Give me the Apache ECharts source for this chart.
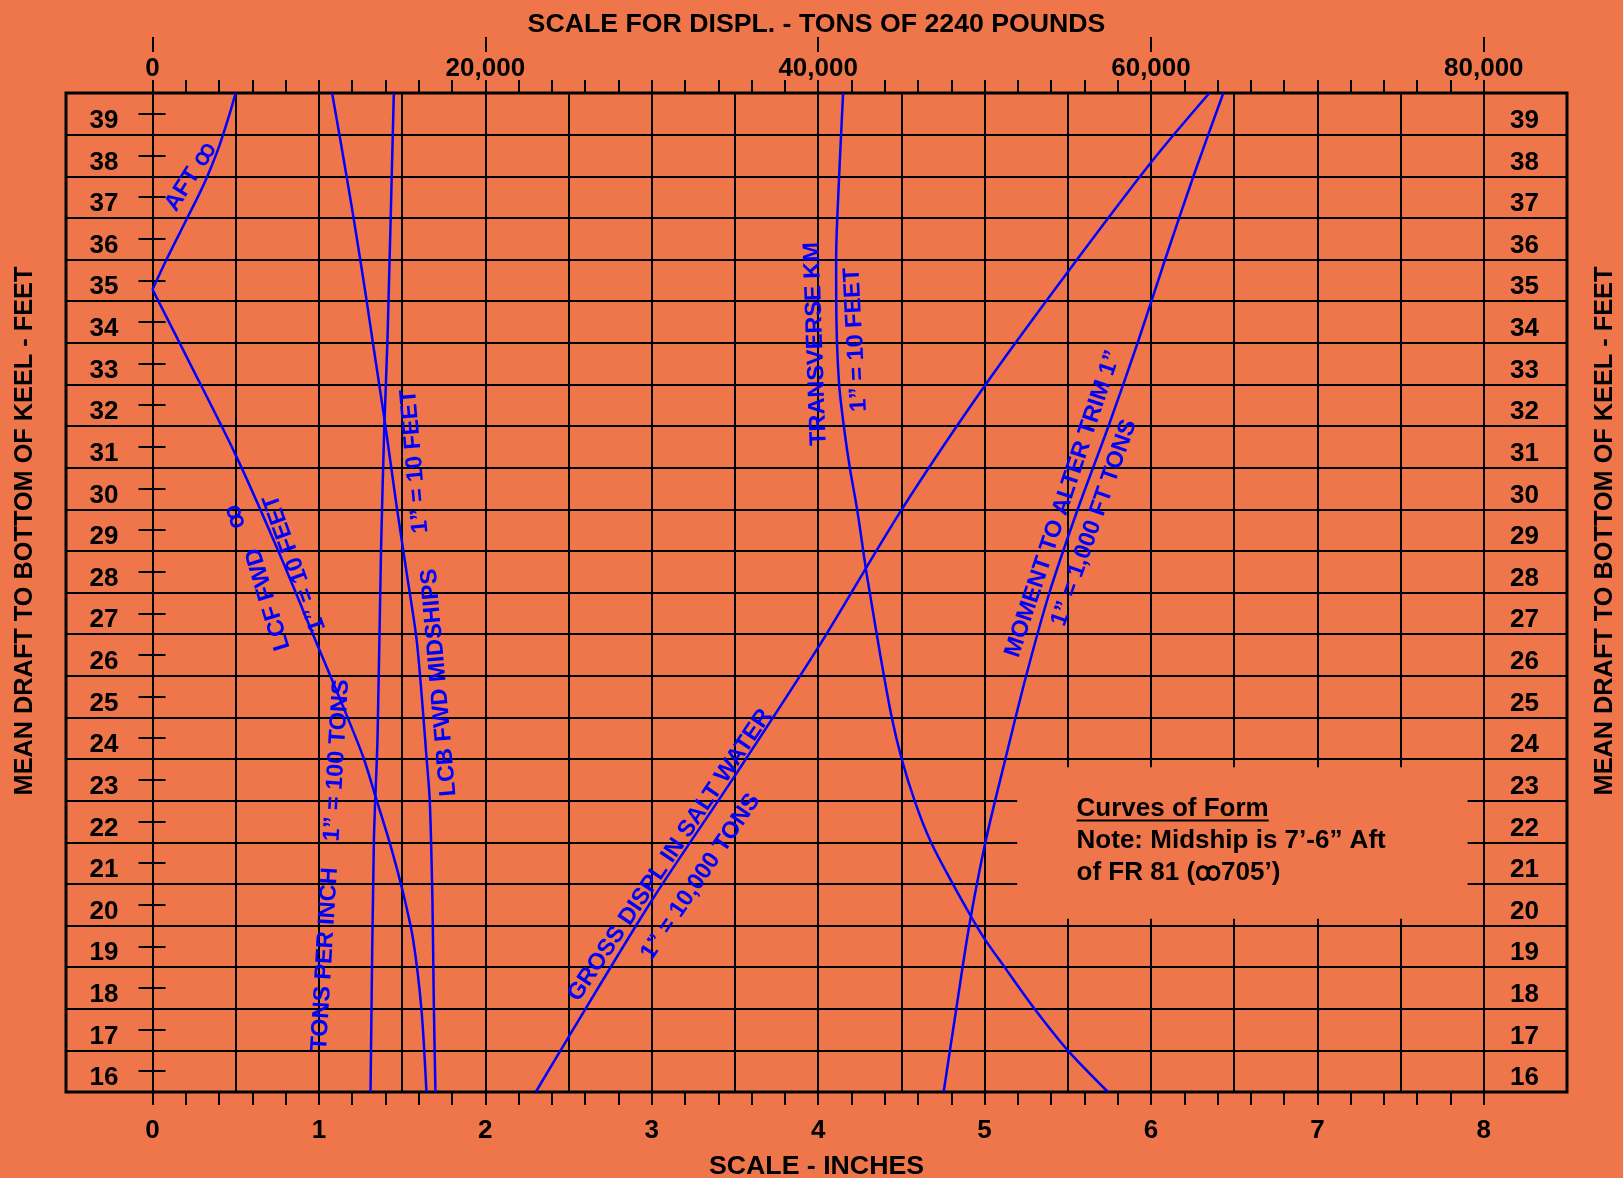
<!DOCTYPE html>
<html>
<head>
<meta charset="utf-8">
<script src="https://cdn.jsdelivr.net/npm/echarts@6/dist/echarts.min.js"></script>
<style>
  html, body { margin: 0; padding: 0; background: #EF764B; }
  #chart { width: 1623px; height: 1178px; }
</style>
</head>
<body>
<div id="chart"></div>
<script>
// ================= DATA =================
// Tick / label values
const draftLabels = [16,17,18,19,20,21,22,23,24,25,26,27,28,29,30,31,32,33,34,35,36,37,38,39];
const draftGridLines = [15.5,16.5,17.5,18.5,19.5,20.5,21.5,22.5,23.5,24.5,25.5,26.5,27.5,28.5,29.5,30.5,31.5,32.5,33.5,34.5,35.5,36.5,37.5,38.5,39.5];
const inchLabels = [0,1,2,3,4,5,6,7,8];
const inchGridLines = [0,0.5,1,1.5,2,2.5,3,3.5,4,4.5,5,5.5,6,6.5,7,7.5,8];
const inchMinorTicks = [];
for (let i = 0; i <= 40; i++) inchMinorTicks.push(Math.round(i * 0.2 * 10) / 10);
const displLabels = [0,20000,40000,60000,80000];
const displMinorTicks = [];
for (let i = 0; i <= 40; i++) displMinorTicks.push(i * 2000);

// Curves: [scale inches, mean draft feet]
const lcfAft = [[0,34.78],[0.084,35.5],[0.204,36.46],[0.284,37.10],[0.334,37.54],[0.404,38.26],[0.465,39.02],[0.499,39.5]];
const lcfFwd = [[1.646,15.5],[1.616,17.48],[1.566,19.16],[1.506,20.28],[1.426,21.48],[1.346,22.52],[1.265,23.56],[1.145,24.76],[1.0,26.15],[0.75,28.55],[0.5,30.8],[0.214,33.09],[0,34.78]];
const tonsPerInch = [[1.31,15.5],[1.33,21.5],[1.352,24.0],[1.373,28.5],[1.393,31.5],[1.412,33.6],[1.45,39.5]];
const lcbFwd = [[1.700,15.5],[1.690,17.7],[1.682,20.1],[1.666,22.5],[1.646,23.56],[1.620,24.9],[1.586,26.4],[1.526,28.0],[1.466,29.6],[1.396,31.6],[1.324,33.5],[1.287,34.5],[1.248,35.5],[1.208,36.5],[1.166,37.5],[1.123,38.5],[1.079,39.5]];
const grossDispl = [[2.303,15.5],[2.5,16.82],[3.0,20.1],[3.5,23.1],[4.0,26.18],[4.5,29.48],[5.0,32.46],[5.5,35.2],[6.0,37.83],[6.351,39.5]];
const momentTrim = [[4.754,15.5],[4.830,17.5],[4.908,19.5],[5.005,21.5],[5.125,23.5],[5.250,25.5],[5.390,27.5],[5.560,29.5],[5.745,31.5],[5.920,33.5],[6.085,35.5],[6.255,37.5],[6.435,39.5]];
const transverseKM = [[5.742,15.5],[5.5,16.5],[5.3,17.5],[5.12,18.5],[5.0,19.18],[4.927,19.66],[4.809,20.5],[4.678,21.5],[4.583,22.46],[4.502,23.5],[4.44,24.54],[4.374,25.98],[4.31,27.5],[4.287,28.06],[4.234,29.5],[4.19,30.5],[4.154,31.5],[4.126,32.5],[4.11,34.0],[4.108,35.5],[4.126,37.5],[4.15,39.5]];

// ================= LAYOUT / STYLE =================
const FONT = '"Liberation Sans", Arial, Helvetica, sans-serif';
const BG = '#EF764B';
const BLUE = '#0000FF';
const X_MIN = -0.52, X_MAX = 8.5, Y_MIN = 15.5, Y_MAX = 39.5, TONS_PER_INCH = 10000;

// annotation texts: position in (inches, feet), rotation in degrees
const curveLabels = [
  {text: 'AFT \uA74F', x: 0.230, y: 37.49, rot: 58},
  {text: '\uA74F', x: 0.495, y: 29.33, rot: 108},
  {text: 'LCF FWD', x: 0.695, y: 27.34, rot: 107},
  {text: '1\u201D = 10 FEET', x: 0.855, y: 28.21, rot: 110},
  {text: '1\u201D = 10 FEET', x: 1.576, y: 30.65, rot: 95},
  {text: 'LCB FWD MIDSHIPS', x: 1.722, y: 25.34, rot: 95},
  {text: 'TONS PER INCH    1\u201D = 100 TONS', x: 1.070, y: 20.95, rot: 86.6},
  {text: 'TRANSVERSE KM', x: 3.985, y: 33.47, rot: 92},
  {text: '1\u201D = 10 FEET', x: 4.226, y: 33.57, rot: 93},
  {text: 'MOMENT TO ALTER TRIM 1\u201D', x: 5.472, y: 29.63, rot: 71.5},
  {text: '1\u201D = 1,000 FT TONS', x: 5.658, y: 29.17, rot: 70.6},
  {text: 'GROSS DISPL IN SALT WATER', x: 3.110, y: 21.19, rot: 56},
  {text: '1\u201D = 10,000 TONS', x: 3.294, y: 20.67, rot: 56}
];
const noteBox = {x0: 5.196, x1: 7.903, y0: 23.3, y1: 19.66};
const noteLines = [
  {text: 'Curves of Form', x: 5.553, y: 22.296, underline: true},
  {text: 'Note: Midship is 7\u2019-6\u201D Aft', x: 5.553, y: 21.537},
  {text: 'of FR 81 (\uA74F705\u2019)', x: 5.553, y: 20.775}
];

const chart = echarts.init(document.getElementById('chart'), null, {renderer: 'canvas', width: 1623, height: 1178});

const lbl = {color: '#000', fontSize: 26, fontWeight: 'bold', fontFamily: FONT};
const ttl = {color: '#000', fontSize: 26.7, fontWeight: 'bold', fontFamily: FONT};
const tickLine = {color: '#000', width: 2};

const curveList = [
  ['LCF aft', lcfAft], ['LCF fwd', lcfFwd], ['Tons per inch', tonsPerInch], ['LCB fwd midships', lcbFwd],
  ['Gross displacement', grossDispl], ['Moment to alter trim', momentTrim], ['Transverse KM', transverseKM]
];

const series = curveList.map(([name, d], i) => {
  const s = {
    name, type: 'line', data: d, xAxisIndex: 0, yAxisIndex: 0,
    showSymbol: false, symbol: 'none', smooth: 0.3, silent: true, z: 3,
    lineStyle: {color: BLUE, width: 2.5}
  };
  if (i === 4) {
    s.markArea = {
      silent: true,
      itemStyle: {color: BG, opacity: 1, borderWidth: 0},
      label: {show: false},
      data: [[{coord: [noteBox.x0, noteBox.y0]}, {coord: [noteBox.x1, noteBox.y1]}]]
    };
  }
  return s;
});

const yLabelStyle = {verticalAlign: 'top', lineHeight: 14};

const option = {
  backgroundColor: BG,
  animation: false,
  grid: {left: 66, right: 56, top: 93, bottom: 86, show: true, borderColor: '#000', borderWidth: 3,
         backgroundColor: 'transparent', outerBoundsMode: 'none'},
  xAxis: [
    { // bottom inches scale
      type: 'value', position: 'bottom', min: X_MIN, max: X_MAX,
      axisLine: {show: false},
      axisTick: {show: true, customValues: inchMinorTicks, length: 13, inside: false, lineStyle: tickLine},
      axisLabel: Object.assign({customValues: inchLabels, margin: 26}, lbl),
      splitLine: {show: false},
      name: 'SCALE - INCHES', nameLocation: 'middle', nameGap: 61, nameTextStyle: ttl
    },
    { // vertical grid lines
      type: 'value', position: 'bottom', min: X_MIN, max: X_MAX,
      axisLine: {show: false}, axisTick: {show: false, customValues: inchGridLines}, axisLabel: {show: false},
      splitLine: {show: true, lineStyle: {color: '#000', width: 2}}
    },
    { // top displacement scale
      type: 'value', position: 'top', min: X_MIN * TONS_PER_INCH, max: X_MAX * TONS_PER_INCH,
      axisLine: {show: false},
      axisTick: {show: true, customValues: displMinorTicks, length: 13, lineStyle: tickLine},
      axisLabel: Object.assign({customValues: displLabels, margin: 11,
                 formatter: v => Number(v).toLocaleString('en-US')}, lbl),
      splitLine: {show: false},
      name: 'SCALE FOR DISPL. - TONS OF 2240 POUNDS', nameLocation: 'middle', nameGap: 55, nameTextStyle: ttl
    },
    { // major ticks above displacement labels
      type: 'value', position: 'top', offset: 41, min: X_MIN * TONS_PER_INCH, max: X_MAX * TONS_PER_INCH,
      axisLine: {show: false},
      axisTick: {show: true, customValues: displLabels, length: 15, lineStyle: tickLine},
      axisLabel: {show: false}, splitLine: {show: false}
    }
  ],
  yAxis: [
    { // horizontal grid lines
      type: 'value', position: 'left', min: Y_MIN, max: Y_MAX,
      axisLine: {show: false}, axisTick: {show: false, customValues: draftGridLines}, axisLabel: {show: false},
      splitLine: {show: true, lineStyle: {color: '#000', width: 2}}
    },
    { // left draft labels at x = 0
      type: 'value', position: 'left', offset: -86.5, min: Y_MIN, max: Y_MAX,
      axisLine: {show: false},
      axisTick: {show: true, customValues: draftLabels, length: 14, lineStyle: tickLine},
      axisLabel: Object.assign({customValues: draftLabels, margin: 34}, lbl, yLabelStyle),
      splitLine: {show: false}
    },
    { // right draft labels at x = 8
      type: 'value', position: 'right', offset: -83, min: Y_MIN, max: Y_MAX,
      axisLine: {show: false},
      axisTick: {show: true, customValues: draftLabels, length: 13, lineStyle: tickLine},
      axisLabel: Object.assign({customValues: draftLabels, margin: 26}, lbl, yLabelStyle),
      splitLine: {show: false}
    }
  ],
  series
};

chart.setOption(option);

// ---- annotations (real text, placed through the chart's own scales) ----
function px(x, y) { return chart.convertToPixel({xAxisIndex: 0, yAxisIndex: 0}, [x, y]); }
const measureCtx = document.createElement('canvas').getContext('2d');

const graphics = [];
curveLabels.forEach(a => {
  const p = px(a.x, a.y);
  const f = 'bold ' + (a.size || 23.5) + 'px ' + FONT;
  graphics.push({
    type: 'text', x: p[0], y: p[1], rotation: a.rot * Math.PI / 180, z: 50, silent: true,
    style: {text: a.text, fill: BLUE, font: f, align: 'center', verticalAlign: 'middle',
            textAlign: 'center', textVerticalAlign: 'middle'}
  });
});
noteLines.forEach(n => {
  const p = px(n.x, n.y);
  const f = 'bold 26px ' + FONT;
  graphics.push({
    type: 'text', x: p[0], y: p[1], z: 50, silent: true,
    style: {text: n.text, fill: '#000', font: f, align: 'left', verticalAlign: 'middle',
            textAlign: 'left', textVerticalAlign: 'middle'}
  });
  if (n.underline) {
    measureCtx.font = f;
    const w = measureCtx.measureText(n.text).width;
    graphics.push({
      type: 'line', z: 50, silent: true,
      shape: {x1: p[0], y1: p[1] + 11.5, x2: p[0] + w, y2: p[1] + 11.5},
      style: {stroke: '#000', lineWidth: 2}
    });
  }
});
// y-axis titles (rotated, both sides)
['left', 'right'].forEach(side => {
  graphics.push({
    type: 'text', x: side === 'left' ? 25 : 1605, y: 531, rotation: Math.PI / 2, z: 50, silent: true,
    style: {text: 'MEAN DRAFT TO BOTTOM OF KEEL - FEET', fill: '#000', font: 'bold 25.3px ' + FONT,
            align: 'center', verticalAlign: 'middle', textAlign: 'center', textVerticalAlign: 'middle'}
  });
});
chart.setOption({graphic: graphics});
</script>
</body>
</html>
